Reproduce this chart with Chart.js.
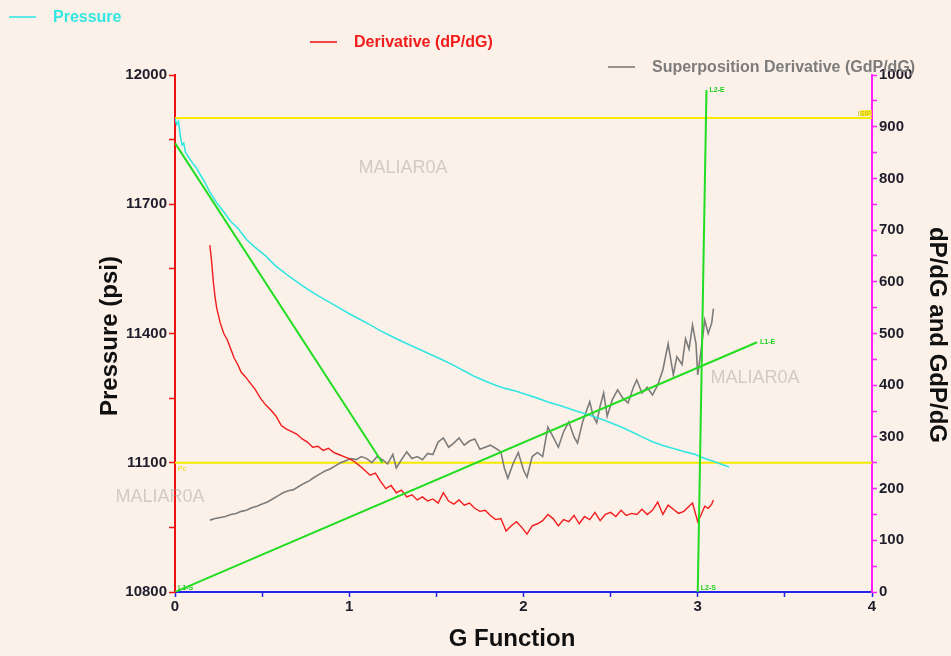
<!DOCTYPE html>
<html>
<head>
<meta charset="utf-8">
<title>G Function Analysis</title>
<script src="https://cdn.jsdelivr.net/npm/chart.js@4.4.1/dist/chart.umd.min.js"></script>
<style>
  html, body { margin: 0; padding: 0; background: #fcf1e8; }
  #wrap { width: 951px; height: 656px; position: relative; }
</style>
</head>
<body>
<div id="wrap"><canvas id="c" width="951" height="656"></canvas></div>
<script>
// ---- Pressure falloff (psi) vs G function ----
const gPressure = [0.00,0.01,0.02,0.03,0.04,0.05,0.06,0.08,0.10,0.12,0.14,0.17,0.20,0.24,0.28,0.32,0.36,0.41,0.46,0.52,
  0.58,0.64,0.70,0.76,0.82,0.88,0.94,1.00,1.06,1.12,1.18,1.24,1.30,1.36,1.42,1.48,1.54,1.60,1.66,1.72,
  1.78,1.84,1.90,1.96,2.02,2.08,2.14,2.20,2.26,2.32,2.38,2.44,2.50,2.56,2.62,2.68,2.74,2.80,2.86,2.92,
  2.98,3.04,3.10,3.14,3.18];
const pressure = [11900,11885,11892,11860,11838,11842,11820,11808,11796,11786,11772,11752,11728,11703,11682,11660,11645,11618,11600,11580,
  11556,11537,11520,11503,11488,11474,11460,11446,11433,11420,11406,11394,11382,11371,11360,11349,11338,11326,11313,11300,
  11290,11280,11272,11266,11258,11250,11241,11234,11226,11218,11210,11202,11193,11183,11172,11160,11149,11140,11133,11126,
  11120,11110,11102,11096,11090];

// ---- Derivative dP/dG ----
const gDeriv = [0.20,0.21,0.22,0.23,0.24,0.26,0.28,0.30,0.32,0.34,0.36,0.38,0.40,0.43,0.46,0.49,0.52,0.55,0.58,0.61,
  0.64,0.67,0.70,0.73,0.76,0.79,0.82,0.85,0.88,0.91,0.94,0.97,1.00,1.03,1.06,1.09,1.12,1.15,1.18,1.21,
  1.24,1.27,1.30,1.33,1.36,1.39,1.42,1.45,1.48,1.51,1.54,1.57,1.60,1.63,1.66,1.69,1.72,1.75,1.78,1.81,
  1.84,1.87,1.90,1.93,1.96,1.99,2.02,2.05,2.08,2.11,2.14,2.17,2.20,2.23,2.26,2.29,2.32,2.35,2.38,2.41,
  2.44,2.47,2.50,2.53,2.56,2.59,2.62,2.65,2.68,2.71,2.74,2.77,2.80,2.83,2.86,2.89,2.92,2.95,2.97,3.00,
  3.02,3.04,3.06,3.08,3.09];
const derivative = [671,640,600,570,548,520,500,488,470,452,440,425,418,405,392,375,362,352,340,322,
  315,310,305,296,290,280,282,274,278,270,266,262,258,252,244,235,226,230,214,200,
  206,192,197,184,188,178,184,176,180,172,192,176,170,178,168,172,162,156,158,148,
  140,142,118,128,136,125,112,128,132,138,150,142,128,140,136,148,132,146,140,154,
  138,150,154,146,158,148,152,150,160,150,158,174,150,168,160,152,156,166,172,136,
  150,166,162,170,178];

// ---- Superposition derivative G·dP/dG ----
const gSuper = [0.20,0.23,0.26,0.29,0.32,0.35,0.38,0.41,0.44,0.47,0.50,0.53,0.56,0.59,0.62,0.65,0.68,0.71,0.74,0.77,
  0.80,0.83,0.86,0.89,0.92,0.95,0.98,1.01,1.04,1.07,1.10,1.13,1.16,1.19,1.22,1.25,1.27,1.30,1.33,1.36,
  1.39,1.42,1.45,1.48,1.51,1.54,1.57,1.60,1.63,1.66,1.69,1.72,1.75,1.78,1.81,1.84,1.87,1.89,1.91,1.94,
  1.97,2.00,2.02,2.05,2.08,2.11,2.14,2.17,2.20,2.23,2.26,2.29,2.31,2.34,2.38,2.40,2.42,2.44,2.46,2.48,
  2.51,2.54,2.57,2.60,2.63,2.65,2.68,2.71,2.74,2.77,2.80,2.83,2.86,2.88,2.91,2.93,2.95,2.97,2.99,3.00,
  3.02,3.04,3.06,3.08,3.09];
const superDeriv = [139,142,144,146,150,152,156,158,163,166,170,174,180,186,192,196,198,204,210,215,
  222,228,234,238,244,250,254,258,256,262,258,250,262,256,248,266,240,256,271,258,
  262,256,268,266,290,298,280,288,298,284,292,296,276,280,284,278,271,240,220,248,
  270,236,222,262,270,262,319,300,280,310,329,300,288,330,368,340,327,360,385,340,
  372,391,375,366,395,410,385,396,381,400,430,480,420,455,440,490,470,516,480,420,
  470,526,500,520,548];

// ---- Reference levels (pressure axis) ----
const levelNames = ['ISIP', 'Pc'];
const levelValues = [11900, 11100];

// ---- Straight-line fits: [G start, value start, G end, value end] ----
const fitPressure = [0.00, 11842, 1.19, 11100];   // on pressure axis
const fitL1 = [0.00, 0, 3.34, 483];                // on derivative axis
const fitL2 = [3.00, 0, 3.05, 971];                // on derivative axis
const fitNames = ['L1', 'L2'];

// ---- Axis tick settings ----
const gTicks = [0, 1, 2, 3, 4];
const pressureTicks = [10800, 11100, 11400, 11700, 12000];
const derivTicks = [0, 100, 200, 300, 400, 500, 600, 700, 800, 900, 1000];

const BG = '#fcf1e8';
const CYAN = '#33e6e2';
const RED = '#f21c1c';
const GRAY = '#7c7c7c';
const GREEN = '#22dd22';
const YELLOW = '#f7ea00';
const FONT = "'Liberation Sans', Arial, sans-serif";

const pts = (xs, ys) => xs.map((x, i) => ({ x, y: ys[i] }));
const seg = (s) => [{ x: s[0], y: s[1] }, { x: s[2], y: s[3] }];

const datasets = [
  { label: 'Pressure', data: pts(gPressure, pressure), yAxisID: 'y', borderColor: CYAN, borderWidth: 1.6, order: 3 },
  { label: 'Derivative (dP/dG)', data: pts(gDeriv, derivative), yAxisID: 'y1', borderColor: RED, borderWidth: 1.4, order: 3 },
  { label: 'Superposition Derivative (GdP/dG)', data: pts(gSuper, superDeriv), yAxisID: 'y1', borderColor: GRAY, borderWidth: 1.6, order: 3 },
  { label: levelNames[0], data: [{ x: 0, y: levelValues[0] }, { x: 4, y: levelValues[0] }], yAxisID: 'y', borderColor: YELLOW, borderWidth: 2, order: 5 },
  { label: levelNames[1], data: [{ x: 0, y: levelValues[1] }, { x: 4, y: levelValues[1] }], yAxisID: 'y', borderColor: YELLOW, borderWidth: 2, order: 5 },
  { label: 'fitP', data: seg(fitPressure), yAxisID: 'y', borderColor: GREEN, borderWidth: 2, order: 1 },
  { label: fitNames[0], data: seg(fitL1), yAxisID: 'y1', borderColor: GREEN, borderWidth: 2, order: 1 },
  { label: fitNames[1], data: seg(fitL2), yAxisID: 'y1', borderColor: GREEN, borderWidth: 2, order: 1 },
];
datasets.forEach(d => { d.pointRadius = 0; d.tension = 0; d.fill = false; });

const tickFont = { family: FONT, size: 15, weight: 'bold' };
const TICK_COLOR = '#1d1d2b';

const overlay = {
  id: 'overlay',
  beforeDraw(chart) {
    const { ctx, width, height } = chart;
    ctx.save();
    ctx.fillStyle = BG;
    ctx.fillRect(0, 0, width, height);
    ctx.restore();
  },
  beforeDatasetsDraw(chart) {
    const { ctx } = chart;
    ctx.save();
    ctx.font = '18px ' + FONT;
    ctx.fillStyle = 'rgba(160,155,150,0.45)';
    ctx.textAlign = 'center';
    ctx.textBaseline = 'middle';
    [[403, 168], [160, 497], [755, 378]].forEach(([x, y]) => ctx.fillText('MALIAR0A', x, y));
    ctx.restore();
  },
  afterDraw(chart) {
    const { ctx } = chart;
    const xs = chart.scales.x, yp = chart.scales.y, yd = chart.scales.y1;
    ctx.save();

    // Legend entries, staggered across the top
    const legend = [
      { text: 'Pressure', color: CYAN, x: 9, y: 17 },
      { text: 'Derivative (dP/dG)', color: RED, x: 310, y: 42 },
      { text: 'Superposition Derivative (GdP/dG)', color: GRAY, x: 608, y: 67 },
    ];
    ctx.font = 'bold 16px ' + FONT;
    ctx.textBaseline = 'middle';
    ctx.textAlign = 'left';
    legend.forEach(e => {
      ctx.strokeStyle = e.color;
      ctx.lineWidth = 1.6;
      ctx.beginPath();
      ctx.moveTo(e.x, e.y);
      ctx.lineTo(e.x + 27, e.y);
      ctx.stroke();
      ctx.fillStyle = e.color;
      ctx.fillText(e.text, e.x + 44, e.y + 1);
    });

    // Axis titles
    ctx.fillStyle = '#101010';
    ctx.font = 'bold 24px ' + FONT;
    ctx.textAlign = 'center';
    ctx.fillText('G Function', 512, 639);
    ctx.save();
    ctx.translate(110, 336);
    ctx.rotate(-Math.PI / 2);
    ctx.fillText('Pressure (psi)', 0, 0);
    ctx.restore();
    ctx.save();
    ctx.translate(937, 335);
    ctx.rotate(Math.PI / 2);
    ctx.fillText('dP/dG and GdP/dG', 0, 0);
    ctx.restore();

    // Small tags on reference levels
    ctx.font = '7px ' + FONT;
    ctx.textBaseline = 'alphabetic';
    const yIsip = yp.getPixelForValue(levelValues[0]);
    ctx.fillStyle = 'rgba(247,234,0,0.75)';
    ctx.fillRect(860, yIsip - 8, 12, 6);
    ctx.fillStyle = '#c9b800';
    ctx.textAlign = 'right';
    ctx.fillText(levelNames[0], 871, yIsip - 2.5);
    const yPc = yp.getPixelForValue(levelValues[1]);
    ctx.textAlign = 'left';
    ctx.fillStyle = '#e8d800';
    ctx.fillText(levelNames[1], xs.left + 3, yPc + 8);

    // Start / end tags on the fitted lines
    ctx.fillStyle = '#18d018';
    ctx.font = 'bold 7px ' + FONT;
    const tag = (name, g, v, dy) => ctx.fillText(name, xs.getPixelForValue(g) + 3, yd.getPixelForValue(v) + dy);
    tag(fitNames[0] + '-S', fitL1[0], fitL1[1], -2);
    tag(fitNames[0] + '-E', fitL1[2], fitL1[3], 2);
    tag(fitNames[1] + '-S', fitL2[0], fitL2[1], -2);
    tag(fitNames[1] + '-E', fitL2[2], fitL2[3], 2);
    ctx.restore();
  }
};

new Chart(document.getElementById('c'), {
  type: 'line',
  data: { datasets },
  plugins: [overlay],
  options: {
    responsive: false,
    animation: false,
    devicePixelRatio: 1,
    layout: { padding: { top: 75, left: 0, right: 0, bottom: 0 } },
    plugins: { legend: { display: false }, tooltip: { enabled: false }, title: { display: false } },
    scales: {
      x: {
        type: 'linear', min: gTicks[0], max: gTicks[gTicks.length - 1],
        afterFit(s) { s.height = 64; },
        ticks: {
          stepSize: 0.5, autoSkip: false, color: TICK_COLOR, font: tickFont, padding: 1,
          callback: v => gTicks.includes(v) ? String(v) : ''
        },
        grid: { drawOnChartArea: false, color: '#2525ee', tickLength: 5, tickWidth: 1.5 },
        border: { color: '#2525ee', width: 2 }
      },
      y: {
        type: 'linear', position: 'left', min: pressureTicks[0], max: pressureTicks[pressureTicks.length - 1],
        afterFit(s) { s.width = 175; },
        ticks: {
          stepSize: 150, autoSkip: false, color: TICK_COLOR, font: tickFont, padding: 2,
          callback: v => pressureTicks.includes(v) ? String(v) : ''
        },
        grid: { drawOnChartArea: false, color: '#ee1111', tickLength: 6, tickWidth: 1.5 },
        border: { color: '#ee1111', width: 2 }
      },
      y1: {
        type: 'linear', position: 'right', min: derivTicks[0], max: derivTicks[derivTicks.length - 1],
        afterFit(s) { s.width = 79; },
        ticks: {
          stepSize: 50, autoSkip: false, color: TICK_COLOR, font: tickFont, padding: 2,
          callback: v => derivTicks.includes(v) ? String(v) : ''
        },
        grid: { drawOnChartArea: false, color: '#ff22ff', tickLength: 5, tickWidth: 1.5 },
        border: { color: '#ff22ff', width: 2 }
      }
    }
  }
});
</script>
</body>
</html>
